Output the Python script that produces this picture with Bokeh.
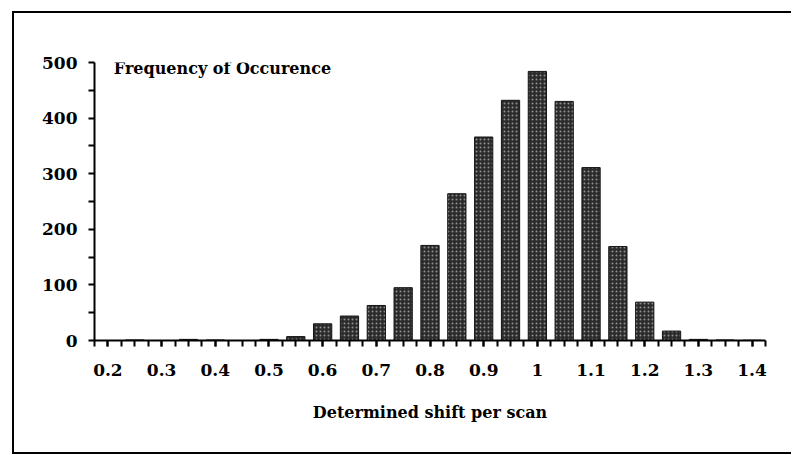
from bokeh.plotting import figure
from bokeh.models import (ColumnDataSource, FixedTicker, CustomJSTickFormatter,
                          Label, Range1d)
from bokeh.embed import file_html
from bokeh.resources import INLINE

# ---- data ----
shift = [0.20, 0.25, 0.30, 0.35, 0.40, 0.45, 0.50, 0.55, 0.60, 0.65, 0.70, 0.75,
         0.80, 0.85, 0.90, 0.95, 1.00, 1.05, 1.10, 1.15, 1.20, 1.25, 1.30, 1.35, 1.40]
frequency = [0, 1, 0, 2, 1, 0, 2, 7, 30, 44, 63, 95,
             171, 264, 366, 432, 484, 430, 311, 169, 69, 17, 2, 1, 0.5]

x_tick_values = [0.2, 0.3, 0.4, 0.5, 0.6, 0.7, 0.8, 0.9, 1.0, 1.1, 1.2, 1.3, 1.4]
x_tick_labels = ["0.2", "0.3", "0.4", "0.5", "0.6", "0.7", "0.8", "0.9", "1",
                 "1.1", "1.2", "1.3", "1.4"]
x_minor_ticks = [round(0.175 + 0.025 * i, 3) for i in range(51)]
y_tick_values = [0, 100, 200, 300, 400, 500]
y_minor_ticks = [50, 150, 250, 350, 450]

FONT = "DejaVu Serif"

src = ColumnDataSource(dict(x=shift, top=frequency))

p = figure(width=779, height=443, output_backend="svg", toolbar_location=None,
           x_range=Range1d(0.175, 1.425), y_range=Range1d(0, 500),
           min_border_left=80, min_border_right=28, min_border_top=49,
           min_border_bottom=116)
p.margin = (11, 0, 0, 12)
p.styles = {"border-left": "2px solid black", "border-top": "2px solid black",
            "border-bottom": "2px solid black"}
p.outline_line_color = None
p.grid.visible = False
p.background_fill_color = "white"
p.border_fill_color = "white"

p.vbar(x="x", top="top", width=0.034, bottom=0, source=src,
       fill_color="#2b2b2b", line_color="#151515", line_width=1,
       hatch_pattern=".", hatch_color="#909090", hatch_scale=4, hatch_weight=1.2)

# x axis
xa = p.xaxis[0]
xa.ticker = FixedTicker(ticks=x_tick_values, minor_ticks=x_minor_ticks)
xa.formatter = CustomJSTickFormatter(args=dict(labels=x_tick_labels),
                                     code="return labels[index];")
xa.axis_label = "Determined shift per scan"
xa.axis_label_text_font = FONT
xa.axis_label_text_font_style = "bold"
xa.axis_label_text_font_size = "16px"
xa.axis_label_text_color = "black"
xa.axis_label_standoff = 24
xa.major_label_text_font = FONT
xa.major_label_text_font_size = "17px"
xa.major_label_text_font_style = "bold"
xa.major_label_standoff = 17
for ax in (xa, p.yaxis[0]):
    ax.axis_line_width = 2
    ax.axis_line_color = "black"
    ax.major_tick_line_width = 2
    ax.minor_tick_line_width = 2
    ax.major_tick_out = 6
    ax.major_tick_in = 0
    ax.minor_tick_out = 6
    ax.minor_tick_in = 0
    ax.major_tick_line_color = "black"
    ax.minor_tick_line_color = "black"
    ax.major_label_text_color = "black"

ya = p.yaxis[0]
ya.ticker = FixedTicker(ticks=y_tick_values, minor_ticks=y_minor_ticks)
ya.major_label_text_font = FONT
ya.major_label_text_font_size = "17px"
ya.major_label_text_font_style = "bold"
ya.major_label_standoff = 11

p.add_layout(Label(x=0.211, y=490, text="Frequency of Occurence",
                   text_font=FONT, text_font_size="16px", text_font_style="bold",
                   text_baseline="middle", text_color="black"))

open("out.html", "w").write(file_html(p, INLINE))
